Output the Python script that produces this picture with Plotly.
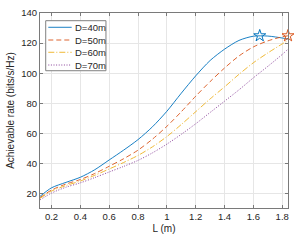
import plotly.graph_objects as go

L = [0.12, 0.2, 0.3, 0.4, 0.5, 0.6, 0.7, 0.8, 0.9, 1.0, 1.1, 1.2, 1.3, 1.4, 1.5, 1.6, 1.7, 1.8, 1.84]
d40 = [18.3, 24, 27.6, 31, 36, 42.5, 49, 56, 64.5, 74.8, 86.8, 98.3, 108.5, 116, 121.8, 124.6, 124.7, 123.4, 122.7]
d50 = [17.5, 22.5, 26.5, 29.5, 33.5, 38.3, 43.3, 49, 56.3, 64.8, 74.5, 84.8, 94.5, 103.5, 111.5, 117.5, 121.5, 124.2, 124.9]
d60 = [17, 21.8, 25.5, 28.5, 32.3, 36.5, 40.8, 45.5, 51.2, 58, 66, 74.5, 83, 91, 99.3, 107, 113.5, 119.5, 121.8]
d70 = [16, 20.5, 24.4, 27.3, 30.8, 34.5, 38.2, 42.2, 47.2, 53, 59.5, 66.5, 74, 81.5, 89, 97, 104.6, 112.5, 116]

star_L = [1.644, 1.84]
star_v = [124.9, 124.9]

names = ["D=40m", "D=50m", "D=60m", "D=70m"]
colors = ["#0072BD", "#D95319", "#EDB120", "#7E2F8E"]
dashes = ["solid", "5px,3px", "6px,2px,1px,2px", "1px,1.6px"]

FONT = "Liberation Sans"
TXT = "#262626"

fig = go.Figure()
for y, n, c, d in zip([d40, d50, d60, d70], names, colors, dashes):
    fig.add_trace(go.Scatter(x=L, y=y, mode="lines", name=n, showlegend=False,
                             line=dict(color=c, width=0.9, dash=d, shape="spline", smoothing=0.8)))

for i in range(2):
    fig.add_trace(go.Scatter(x=[star_L[i]], y=[star_v[i]], mode="markers", showlegend=False,
                             cliponaxis=False,
                             marker=dict(symbol="star-open", size=9, color=colors[i],
                                         line=dict(width=1, color=colors[i]))))

# custom compact legend (MATLAB style)
leg_x0, leg_x1 = 0.023, 0.266
leg_y0, leg_y1 = 0.704, 0.9605
row_y = [0.9267, 0.8615, 0.7985, 0.7333]
fig.add_shape(type="rect", xref="paper", yref="paper", x0=leg_x0, x1=leg_x1, y0=leg_y0, y1=leg_y1,
              fillcolor="white", line=dict(color="#808080", width=1), layer="above")
for n, c, d, ry in zip(names, colors, dashes, row_y):
    fig.add_shape(type="line", xref="paper", yref="paper", x0=0.0335, x1=0.1278, y0=ry, y1=ry,
                  line=dict(color=c, width=0.9, dash=d), layer="above")
    fig.add_annotation(xref="paper", yref="paper", x=0.1343, y=ry, text=n, showarrow=False,
                       xanchor="left", yanchor="middle", font=dict(size=9.5, color=TXT, family=FONT))

axis_common = dict(showline=True, linecolor="#7a7a7a", linewidth=1, mirror="ticks",
                   ticks="inside", ticklen=3, tickcolor="#7a7a7a",
                   showgrid=True, gridcolor="#e6e6e6", gridwidth=1, zeroline=False,
                   tickfont=dict(size=9.5, color=TXT, family=FONT))

fig.update_xaxes(range=[0.12, 1.84], tickvals=[0.2, 0.4, 0.6, 0.8, 1.0, 1.2, 1.4, 1.6, 1.8],
                 ticktext=["0.2", "0.4", "0.6", "0.8", "1", "1.2", "1.4", "1.6", "1.8"],
                 title=dict(text="L (m)", font=dict(size=10, color=TXT, family=FONT), standoff=3),
                 **axis_common)
fig.update_yaxes(range=[10.6, 140], tickvals=[20, 40, 60, 80, 100, 120, 140],
                 title=dict(text="Achievable rate (bits/s/Hz)", font=dict(size=10, color=TXT, family=FONT), standoff=4),
                 **axis_common)

fig.update_layout(width=298, height=241, margin=dict(l=40, r=10, t=13, b=33, autoexpand=False),
                  plot_bgcolor="white", paper_bgcolor="white", showlegend=False)

fig.write_html("out.html", config={"displayModeBar": False},
               post_script="document.body.style.margin='0';")
